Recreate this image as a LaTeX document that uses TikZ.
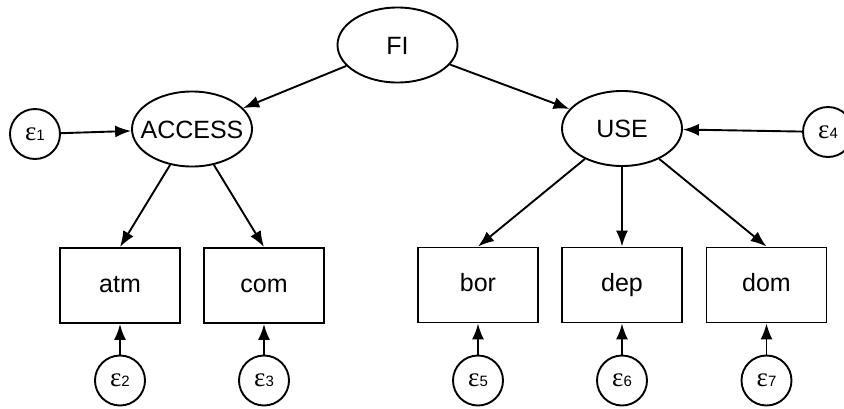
\documentclass[tikz,border=0pt]{standalone}
\usepackage{fontspec}
\setmainfont{Liberation Sans}
\newfontfamily\epsfont{Liberation Serif}
\usetikzlibrary{arrows.meta,shapes.geometric}
\newcommand{\elab}[1]{\raisebox{-5pt}{{\epsfont\fontsize{27}{27}\selectfont ε}{\fontsize{15}{15}\selectfont #1}}}
\tikzset{
  txt/.style={font=\fontsize{25}{25}\selectfont, text height=18pt, text depth=5pt},
  lat/.style={ellipse, draw, line width=1.9pt, minimum width=120pt, minimum height=75pt, inner ysep=0pt, inner xsep=-20pt, txt, text depth=0pt},
  obs/.style={rectangle, draw, line width=1.9pt, minimum width=120pt, minimum height=75pt, inner sep=0pt, txt},
  err/.style={circle, draw, line width=1.9pt, minimum size=50pt, inner sep=0pt},
  arr/.style={line width=1.9pt, -{Latex[length=16pt,width=12pt]}}
}
\begin{document}
\begin{tikzpicture}[x=1pt,y=-1pt]
\useasboundingbox (0,0) rectangle (844,408);
\node[lat] (FI) at (397.5,45) {FI};
\node[lat] (ACCESS) at (192,129) {ACCESS};
\node[lat] (USE) at (622,128.5) {USE};
\node[obs] (atm) at (120,285.5) {atm};
\node[obs] (com) at (264,285.5) {com};
\node[obs] (bor) at (478,285) {bor};
\node[obs] (dep) at (622,285) {dep};
\node[obs] (dom) at (766.5,285) {dom};
\node[err] (e1) at (35,134) {\elab{1}};
\node[err] (e4) at (828,132) {\elab{4}};
\node[err] (e2) at (120,380.5) {\elab{2}};
\node[err] (e3) at (264,380.5) {\elab{3}};
\node[err] (e5) at (478,380.5) {\elab{5}};
\node[err] (e6) at (622,380.5) {\elab{6}};
\node[err] (e7) at (766.5,380.5) {\elab{7}};
\draw[arr] (FI) -- (ACCESS);
\draw[arr] (FI) -- (USE);
\draw[arr] (e1) -- (ACCESS);
\draw[arr] (e4) -- (USE);
\draw[arr] (ACCESS) -- (atm.north);
\draw[arr] (ACCESS) -- (com.north);
\draw[arr] (USE) -- (bor.north);
\draw[arr] (USE) -- (dep.north);
\draw[arr] (USE) -- (dom.north);
\draw[arr] (e2) -- (atm.south);
\draw[arr] (e3) -- (com.south);
\draw[arr] (e5) -- (bor.south);
\draw[arr] (e6) -- (dep.south);
\draw[arr] (e7) -- (dom.south);
\end{tikzpicture}
\end{document}
